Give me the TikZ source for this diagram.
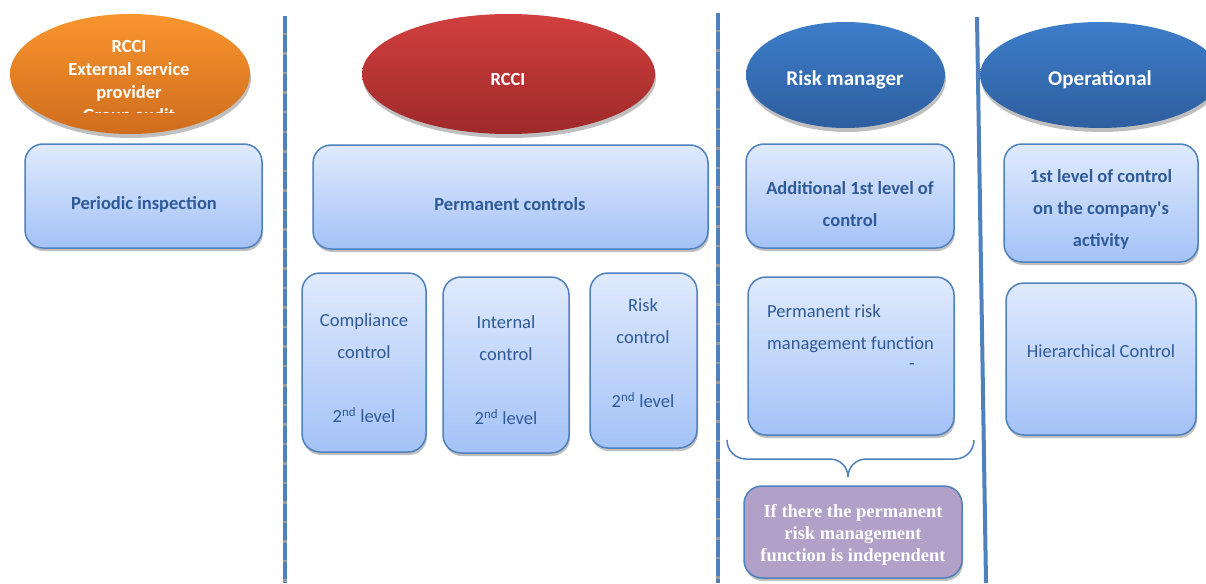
\documentclass[tikz,border=0pt]{standalone}
\usepackage{fontspec}
\setmainfont{Carlito}
\newfontfamily\notefont{Liberation Serif}
\usepackage{tikz}
\usetikzlibrary{
  shapes.geometric,
  shadows
}
\usepackage{xcolor}
\definecolor{boxTop}{rgb}{0.878,0.918,0.992}
\definecolor{boxBottom}{rgb}{0.643,0.761,0.969}
\definecolor{boxLine}{rgb}{0.310,0.506,0.741}
\definecolor{boxText}{rgb}{0.184,0.353,0.596}
\definecolor{orangeTop}{rgb}{0.976,0.584,0.180}
\definecolor{orangeBottom}{rgb}{0.812,0.427,0.118}
\definecolor{redTop}{rgb}{0.820,0.251,0.247}
\definecolor{redBottom}{rgb}{0.620,0.161,0.161}
\definecolor{blueTop}{rgb}{0.239,0.490,0.792}
\definecolor{blueBottom}{rgb}{0.180,0.369,0.620}
\definecolor{notePurple}{rgb}{0.694,0.627,0.780}
\tikzset{
  ctrlbox/.style={
    draw=boxLine, line width=1.5pt, rounded corners=18pt,
    top color=boxTop, bottom color=boxBottom,
    drop shadow={shadow xshift=1pt, shadow yshift=-3pt, fill=black!50},
    inner sep=0pt
  },
  notebox/.style={
    ctrlbox, top color=notePurple, bottom color=notePurple
  },
  headoval/.style={
    ellipse, inner sep=0pt,
    drop shadow={shadow xshift=1pt, shadow yshift=-4pt, fill=black!50}
  },
  headtext/.style={
    text=white, align=center, inner sep=0pt,
    font=\fontsize{21}{25}\selectfont\bfseries
  },
  boxbold/.style={
    text=boxText, align=center, inner sep=0pt,
    font=\fontsize{18.5}{32}\selectfont\bfseries
  },
  boxtext/.style={
    text=boxText, align=center, inner sep=0pt,
    font=\fontsize{18.5}{32}\selectfont
  },
  dashsep/.style={
    draw=boxLine, line width=4.5pt, dash pattern=on 17pt off 2.5pt
  }
}

\begin{document}
\begin{tikzpicture}[x=1pt, y=-1pt]
    \useasboundingbox (0,0) rectangle (1206,583);

    % separators
    \draw[black!40, line width=4pt] (285,16) -- (285,583);
    \draw[dashsep] (285,16) -- (285,583);
    \draw[black!40, line width=4pt] (718,13) -- (718,583);
    \draw[dashsep] (718,13) -- (718,583);
    \draw[boxLine, line width=4pt] (977,17) -- (986,583);

    % headers
    \node[headoval, top color=orangeTop, bottom color=orangeBottom,
          minimum width=240pt, minimum height=120pt] (auditOval) at (130,74) {};
    \begin{scope}
      \clip (0,0) rectangle (300,113);
      \node[headtext, font=\fontsize{18.5}{23}\selectfont\bfseries] (auditText) at (129,82)
        {RCCI\\External service\\provider\\Group audit};
    \end{scope}
    \node[headoval, top color=redTop, bottom color=redBottom,
          minimum width=293pt, minimum height=120pt] (rcciOval) at (508.5,74) {};
    \node[headtext, font=\fontsize{18.5}{22}\selectfont\bfseries] (rcciText) at (508,79) {RCCI};
    \node[headoval, top color=blueTop, bottom color=blueBottom,
          minimum width=199pt, minimum height=106pt] (riskOval) at (845.5,75) {};
    \node[headtext] (riskText) at (845,80) {Risk manager};
    \node[headoval, top color=blueTop, bottom color=blueBottom,
          minimum width=240pt, minimum height=106pt] (operOval) at (1100,75) {};
    \node[headtext] (operText) at (1100,80) {Operational};

    % first row
    \node[ctrlbox, minimum width=237pt, minimum height=104pt] (periodic) at (143.5,196) {};
    \node[boxbold] (periodicText) at (144,204) {Periodic inspection};
    \node[ctrlbox, minimum width=395pt, minimum height=104pt] (permanent) at (510.5,197) {};
    \node[boxbold] (permanentText) at (510,204) {Permanent controls};
    \node[ctrlbox, minimum width=208pt, minimum height=104pt] (additional) at (850,196) {};
    \node[boxbold] (additionalText) at (850,204) {Additional 1st level of\\control};
    \node[ctrlbox, minimum width=194pt, minimum height=118pt] (firstLevel) at (1101,203) {};
    \node[boxbold] (firstLevelText) at (1101,209)
      {1st level of control\\on the company\textquotesingle s\\activity};

    % second level controls
    \node[ctrlbox, minimum width=124pt, minimum height=179pt] (compliance) at (364,362.5) {};
    \node[boxtext] (complianceText) at (364,368)
      {Compliance\\control\\[32pt]2\textsuperscript{nd} level};
    \node[ctrlbox, minimum width=126pt, minimum height=176pt] (internal) at (506,365) {};
    \node[boxtext] (internalText) at (506,370)
      {Internal\\control\\[32pt]2\textsuperscript{nd} level};
    \node[ctrlbox, minimum width=107pt, minimum height=175pt] (riskCtrl) at (643.5,360.5) {};
    \node[boxtext] (riskCtrlText) at (643,353)
      {Risk\\control\\[32pt]2\textsuperscript{nd} level};

    \node[ctrlbox, minimum width=206pt, minimum height=158pt] (riskFunc) at (851,356) {};
    \node[boxtext, align=left, anchor=west] (riskFuncText) at (767,329)
      {Permanent risk\\management function};
    \node[boxtext] (riskFuncDash) at (912,367) {-};
    \node[ctrlbox, minimum width=190pt, minimum height=152pt] (hierarchical) at (1101,359) {};
    \node[boxtext] (hierarchicalText) at (1101,351) {Hierarchical Control};

    % brace and note
    \draw[boxLine, line width=1.5pt]
      (727,440) to[out=-90, in=180] (746,459) -- (830,459)
      to[out=0, in=90] (848,477) to[out=90, in=180] (866,459)
      -- (955,459) to[out=0, in=-90] (974,440);
    \node[notebox, minimum width=218pt, minimum height=92pt] (note) at (853,532) {};
    \node[text=white, align=center, inner sep=0pt,
          font=\fontsize{18.5}{22}\selectfont\notefont\bfseries] (noteText) at (853,535)
      {If there the permanent\\risk management\\function is independent};
\end{tikzpicture}
\end{document}
